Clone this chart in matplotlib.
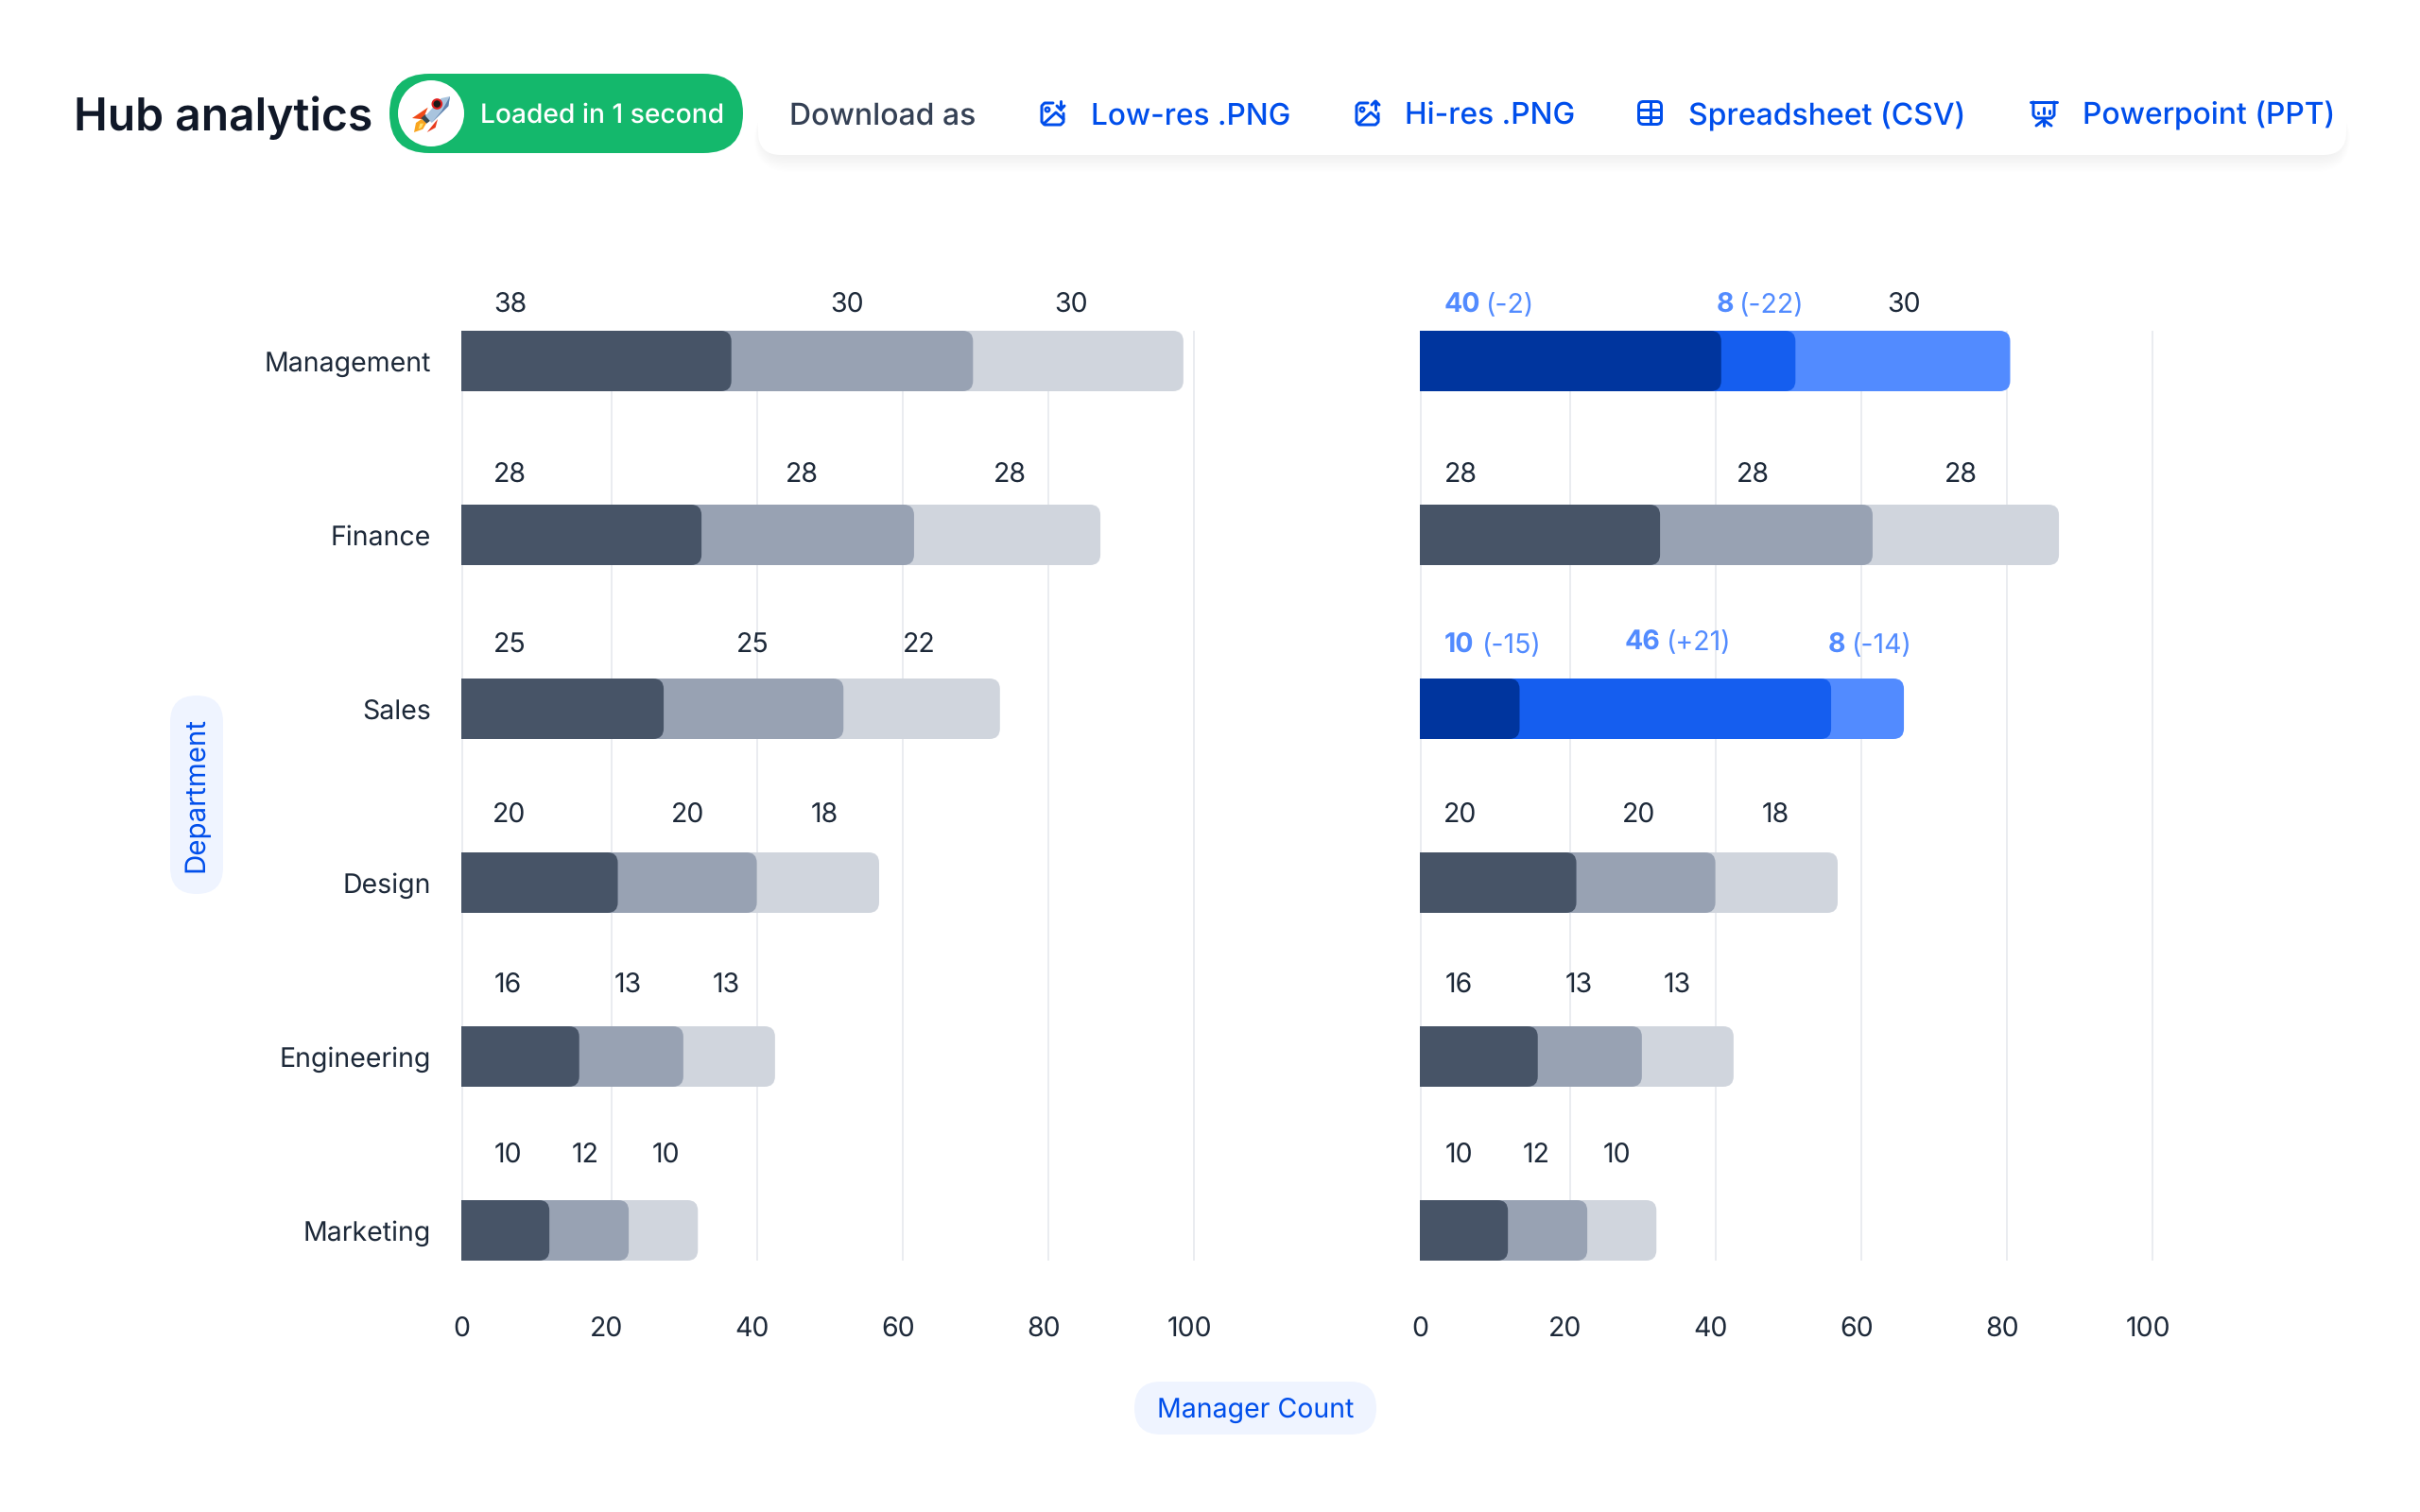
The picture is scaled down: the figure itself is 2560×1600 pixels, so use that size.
import matplotlib
matplotlib.use("Agg")
import matplotlib.pyplot as plt
from matplotlib.patches import FancyBboxPatch, PathPatch, Circle, Polygon
from matplotlib.path import Path

# ---------- data ----------
departments = ["Management", "Finance", "Sales", "Design", "Engineering", "Marketing"]
x_ticks = [0, 20, 40, 60, 80, 100]

# segment lengths as drawn (on the axis scale)
left_first = [37.1, 33.0, 27.8, 21.5, 16.2, 12.1]
left_second = [33.2, 29.2, 24.7, 19.1, 14.3, 10.9]
left_third = [28.9, 25.6, 21.5, 16.8, 12.6, 9.5]

right_first = [41.4, 33.0, 13.7, 21.5, 16.2, 12.1]
right_second = [10.2, 29.2, 42.8, 19.1, 14.3, 10.9]
right_third = [29.5, 25.6, 10.0, 16.8, 12.6, 9.5]

# printed labels
left_labels = [["38", "30", "30"], ["28", "28", "28"], ["25", "25", "22"],
               ["20", "20", "18"], ["16", "13", "13"], ["10", "12", "10"]]
right_labels = [[("40", "(-2)"), ("8", "(-22)"), "30"], ["28", "28", "28"],
                [("10", "(-15)"), ("46", "(+21)"), ("8", "(-14)")],
                ["20", "20", "18"], ["16", "13", "13"], ["10", "12", "10"]]
highlighted = [True, False, True, False, False, False]

# ---------- layout (pixels) ----------
W, H = 2560, 1600
PXU = 7.7
L0, R0 = 488, 1502
AX_TOP, AX_BOT = 350, 1334
ROW = 184
BAR_PX = 64
GRID_SHIFT = 0.65
label_base = [330, 510, 690, 870, 1050, 1230]
left_label_x = [[540, 896, 1133], [539, 848, 1068], [539, 796, 972],
                [539, 728, 872], [537, 664, 768], [537, 619, 704]]
right_label_x = [[None, None, 2014], [1545, 1854, 2074], [None, None, None],
                 [1545, 1734, 1878], [1543, 1670, 1774], [1543, 1625, 1710]]
# left edges of bold figure and of the bracket for highlighted labels
hl_pos = {0: [(1528, 1572, 330), (1816, 1840, 330)],
          2: [(1528, 1568, 690), (1719, 1763, 687), (1934, 1959, 690)]}

INK = "#1D2939"
GRID = "#EAECF0"
BLUE = "#004EEB"
PALE = "#EFF4FF"
LABEL_BLUE = "#528BFF"
GREYS = ["#475467", "#98A2B3", "#D0D5DD"]
BLUES = ["#00359E", "#155EEF", "#528BFF"]
FONT = ["Inter", "DejaVu Sans"]
BODY = 28.5
plt.rcParams["font.family"] = FONT
plt.rcParams["text.hinting"] = "none"
plt.rcParams["text.hinting_factor"] = 1


def pt(px):
    return px * 0.72


fig = plt.figure(figsize=(W / 100, H / 100), dpi=100, facecolor="white")
ov = fig.add_axes([0, 0, 1, 1], zorder=0)
top = fig.add_axes([0, 0, 1, 1], zorder=5)
for a in (ov, top):
    a.set_xlim(0, W)
    a.set_ylim(H, 0)
    a.axis("off")
    a.patch.set_alpha(0)


def pill(x0, y0, x1, y1, r, color, z=1, **kw):
    p = FancyBboxPatch((x0, y0), x1 - x0, y1 - y0, boxstyle=f"round,pad=0,rounding_size={r}",
                       fc=color, ec="none", zorder=z, **kw)
    ov.add_patch(p)
    return p


def rounded_right(x1, yc, h, rx, ry):
    x0 = 0
    y0, y2 = yc - h / 2, yc + h / 2
    verts = [(x0, y0), (x1 - rx, y0), (x1, y0), (x1, y0 + ry), (x1, y2 - ry), (x1, y2), (x1 - rx, y2), (x0, y2), (x0, y0)]
    codes = [Path.MOVETO, Path.LINETO, Path.CURVE3, Path.CURVE3, Path.LINETO, Path.CURVE3, Path.CURVE3, Path.LINETO, Path.CLOSEPOLY]
    return Path(verts, codes)


def make_panel(x0_px, first, second, third, hl, show_y):
    w = 101 * PXU
    ax = fig.add_axes([x0_px / W, 1 - AX_BOT / H, w / W, (AX_BOT - AX_TOP) / H], zorder=2)
    ax.patch.set_alpha(0)
    ax.set_xlim(0, 101)
    pad = (BAR_PX / 2) / ROW
    ax.set_ylim(len(departments) - 1 + pad, -pad)
    for s in ax.spines.values():
        s.set_visible(False)
    ax.axvline(0, color=GRID, lw=pt(3), zorder=1)
    for t in x_ticks[1:]:
        ax.axvline(t + GRID_SHIFT, color=GRID, lw=pt(2), zorder=1)
    ry = 11 / ROW
    rx = 11 / PXU
    h = BAR_PX / ROW
    for i in range(len(departments)):
        cols = BLUES if hl[i] else GREYS
        ends = [first[i], first[i] + second[i], first[i] + second[i] + third[i]]
        for k in (2, 1, 0):
            ax.add_patch(PathPatch(rounded_right(ends[k], i, h, rx, ry), fc=cols[k], ec="none", zorder=2 + 2 - k))
    ax.set_xticks(x_ticks)
    ax.set_yticks(range(len(departments)))
    ax.set_yticklabels(departments if show_y else [""] * len(departments))
    ax.tick_params(axis="both", length=0, labelcolor=INK, labelsize=pt(BODY))
    ax.tick_params(axis="x", pad=pt(59))
    ax.tick_params(axis="y", pad=pt(32))
    return ax


make_panel(L0, left_first, left_second, left_third, [False] * 6, True)
make_panel(R0, right_first, right_second, right_third, highlighted, False)

# value labels
for i, row in enumerate(left_labels):
    for txt, x in zip(row, left_label_x[i]):
        top.text(x, label_base[i], txt, ha="center", va="baseline", fontsize=pt(BODY), color=INK)
for i, row in enumerate(right_labels):
    hi = 0
    for j, item in enumerate(row):
        if isinstance(item, tuple):
            xb, xp, y = hl_pos[i][hi]
            hi += 1
            top.text(xb, y, item[0], ha="left", va="baseline", fontsize=pt(BODY), color=LABEL_BLUE, fontweight="bold")
            top.text(xp, y, item[1], ha="left", va="baseline", fontsize=pt(BODY), color=LABEL_BLUE)
        else:
            top.text(right_label_x[i][j], label_base[i], item, ha="center", va="baseline", fontsize=pt(BODY), color=INK)

# axis title pills
pill(180, 736, 236, 946, 28, PALE)
top.text(208, 841, "Department", rotation=90, ha="center", va="center", fontsize=pt(29.5), color=BLUE)
pill(1200, 1462, 1456, 1518, 28, PALE)
top.text(1328, 1500, "Manager Count", ha="center", va="baseline", fontsize=pt(BODY), color=BLUE)

# header
top.text(78, 138, "Hub analytics", ha="left", va="baseline", fontsize=pt(48), fontweight="semibold", color="#101828")
pill(412, 78, 786, 162, 42, "#14B86C")
ov.add_patch(Circle((456, 120), 35, fc="white", ec="none", zorder=2))
top.text(508, 130, "Loaded in 1 second", ha="left", va="baseline", fontsize=pt(28.2), fontweight="medium", color="white")


# rocket (zoomed coordinates /3 + crop origin)
def rk(pts):
    return [(410 + a / 3, 80 + b / 3) for a, b in pts]


ov.add_patch(Polygon(rk([(78, 135), (128, 101), (112, 139)]), fc="#F04A18", ec="none", zorder=4))
ov.add_patch(Polygon(rk([(125, 180), (159, 138), (152, 165)]), fc="#E8391B", ec="none", zorder=4))
ov.add_patch(Polygon(rk([(84, 180), (90, 150), (108, 138), (124, 150), (112, 170)]), fc="#F9A51F", ec="none", zorder=4))
ov.add_patch(Polygon(rk([(98, 170), (103, 152), (114, 152), (108, 165)]), fc="#FFE36E", ec="none", zorder=5))
ov.add_patch(Polygon(rk([(106, 135), (120, 123), (137, 142), (124, 152)]), fc="#37474F", ec="none", zorder=5))
ov.add_patch(Polygon(rk([(120, 128), (170, 72), (198, 66), (193, 97), (140, 150)]), fc="#A9C4DE", ec="none", zorder=6))
ov.add_patch(Polygon(rk([(140, 150), (193, 97), (198, 66), (172, 112)]), fc="#5F83AE", ec="none", zorder=6))
ov.add_patch(Circle((410 + 157 / 3, 80 + 90 / 3), 4.8, fc="#1A1A1A", ec="#E02020", lw=1.5, zorder=7))

# download card with soft shadow
for k in range(14):
    g = 14 - k
    pill(806 - g * 0.6, 112, 2478 + g * 0.6, 164 + g * 1.3, 24 + g, "#101828", z=0.5, alpha=0.005)
pill(802, 60, 2482, 164, 24, "white", z=1)
top.text(835, 132, "Download as", ha="left", va="baseline", fontsize=pt(32), fontweight="medium", color="#344054")
for x, t, fs in [(1154, "Low-res .PNG", 31.6), (1486, "Hi-res .PNG", 31.7), (1786, "Spreadsheet (CSV)", 32), (2203, "Powerpoint (PPT)", 31.8)]:
    top.text(x, 132, t, ha="left", va="baseline", fontsize=pt(fs), fontweight="medium", color=BLUE)

LW = pt(3)


def ln(pts):
    ov.plot([p[0] for p in pts], [p[1] for p in pts], color=BLUE, lw=LW, solid_capstyle="round", solid_joinstyle="round", zorder=3)


def image_icon(x, up):
    # picture frame, open at the top right
    ln([(x + 14, 109), (x + 5, 109), (x + 2, 112), (x + 2, 129), (x + 5, 132), (x + 22, 132), (x + 25, 129), (x + 25, 120)])
    ov.add_patch(Circle((x + 8, 116), 2.2, fc="none", ec=BLUE, lw=pt(2.5), zorder=3))
    ln([(x + 4, 131), (x + 17, 119), (x + 25, 126)])
    ax_x = x + 22
    ln([(ax_x, 107), (ax_x, 116)])
    if up:
        ln([(ax_x - 4, 111), (ax_x, 107), (ax_x + 4, 111)])
    else:
        ln([(ax_x - 4, 112), (ax_x, 116), (ax_x + 4, 112)])


image_icon(1100, False)
image_icon(1433, True)
ov.add_patch(FancyBboxPatch((1733.5, 107.5), 24, 24, boxstyle="round,pad=0,rounding_size=5", fc="none", ec=BLUE, lw=LW, zorder=3))
ln([(1734, 115.5), (1757, 115.5)])
ln([(1734, 123.5), (1757, 123.5)])
ln([(1745.5, 108), (1745.5, 131)])
# presentation icon
ln([(2148, 108), (2176, 108)])
ln([(2151, 108), (2151, 122), (2154, 125), (2170, 125), (2173, 122), (2173, 108)])
ln([(2162, 125), (2162, 133)])
ln([(2154, 133), (2162, 127), (2170, 133)])
ln([(2156, 119), (2156, 119.5)])
ln([(2162, 114), (2162, 119.5)])
ln([(2168, 117), (2168, 119.5)])

fig.savefig("out.png", dpi=100, facecolor="white")
